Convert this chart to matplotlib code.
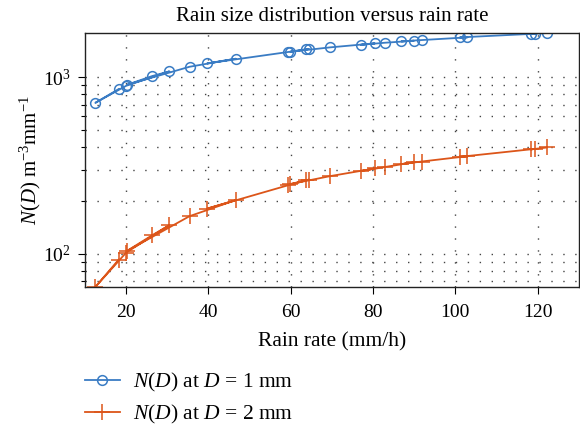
import matplotlib
matplotlib.use("Agg")
import matplotlib.pyplot as plt
from matplotlib.ticker import LogLocator, NullFormatter

plt.rcParams['font.family'] = ['Liberation Serif', 'DejaVu Serif']
plt.rcParams['mathtext.fontset'] = 'custom'
plt.rcParams['mathtext.rm'] = 'Liberation Serif'
plt.rcParams['mathtext.it'] = 'Liberation Serif:italic'
plt.rcParams['mathtext.bf'] = 'Liberation Serif:bold'

# Rain rate (mm/h), in the order the points are connected
rain_rate = [18.2, 12.5, 20.0, 30.5, 26.3, 20.2, 35.4, 46.6, 39.7, 59.3, 64.4,
             63.8, 59.9, 69.5, 80.4, 77.0, 82.9, 89.9, 86.9, 91.8, 102.9,
             101.1, 119.4, 118.3, 122.2]
# N(D) at D = 1 mm
nd_1mm = [859, 717, 896, 1082, 1017, 908, 1149, 1276, 1201, 1393, 1450,
          1443, 1398, 1480, 1560, 1531, 1573, 1614, 1602, 1629, 1687,
          1687, 1770, 1763, 1786]
# N(D) at D = 2 mm
nd_2mm = [92.5, 64.6, 101.3, 145, 127, 103.5, 163, 201, 180, 244, 263,
          261, 248, 275, 304, 294, 310, 330, 322, 333, 357,
          354, 393, 390, 400]

x_ticks = [20, 40, 60, 80, 100, 120]
title = "Rain size distribution versus rain rate"
xlabel = "Rain rate (mm/h)"
ylabel = r"$N(D)$ m$^{-3}$mm$^{-1}$"
labels = [r"$N(D)$ at $D$ = 1 mm", r"$N(D)$ at $D$ = 2 mm"]

blue = '#3a7cc4'
orange = '#dc5519'

fig = plt.figure(figsize=(5.8, 4.26), dpi=100)
ax = fig.add_axes([0.1466, 0.3263, 0.8514, 0.5962])

l1, = ax.plot(rain_rate, nd_1mm, color=blue, marker='o', markerfacecolor='none',
              markersize=7, markeredgewidth=1.1, linewidth=1.3)
l2, = ax.plot(rain_rate, nd_2mm, color=orange, marker='+',
              markersize=11, markeredgewidth=1.1, linewidth=1.3)

ax.set_yscale('log')
ax.set_xlim(10, 130)
ax.set_ylim(min(nd_2mm), max(nd_1mm))
ax.set_xticks(x_ticks)
ax.set_xticklabels([str(t) for t in x_ticks])
ax.yaxis.set_major_locator(LogLocator(base=10))
ax.yaxis.set_minor_locator(LogLocator(base=10, subs=range(2, 10)))
ax.yaxis.set_minor_formatter(NullFormatter())

ax.tick_params(axis='both', which='major', direction='out', length=5,
               width=0.8, labelsize=14, top=False, right=False, pad=5)
ax.tick_params(axis='x', which='major', pad=7)
ax.tick_params(axis='y', which='minor', direction='out', length=3, width=0.8)
ax.tick_params(axis='x', which='minor', bottom=False)

grid_style = dict(color='#444444', linestyle=(0, (1, 7.6)), linewidth=1.0)
ax.grid(True, which='major', axis='both', **grid_style)
ax.grid(True, which='minor', axis='y', **grid_style)

for s in ax.spines.values():
    s.set_linewidth(1.0)
    s.set_color('#222222')

ax.set_title(title, fontsize=15, pad=9)
ax.set_xlabel(xlabel, fontsize=15.5, labelpad=8)
ax.set_ylabel(ylabel, fontsize=15, labelpad=0)

fig.legend([l1, l2], labels, loc='upper left', bbox_to_anchor=(0.147, 0.13),
           frameon=False, fontsize=15.5, handlelength=1.6, handletextpad=0.6,
           labelspacing=0.45, borderaxespad=0, borderpad=0)

fig.savefig("out.png", dpi=100)
